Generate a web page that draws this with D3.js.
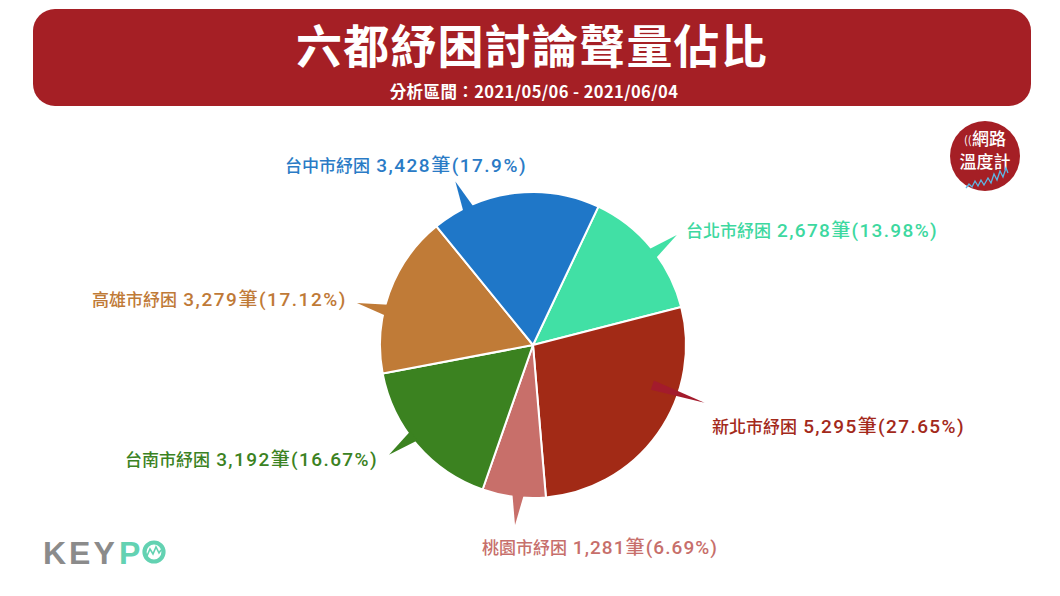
<!DOCTYPE html>
<html><head><meta charset="utf-8">
<script src="https://cdn.jsdelivr.net/npm/d3@7"></script>
<style>
html,body{margin:0;padding:0;background:#fff;}
svg{display:block;}
</style></head>
<body>
<svg id="chart" width="1060" height="596"></svg>
<script>
// ---- data ----
const cities = ["台北市紓困", "新北市紓困", "桃園市紓困", "台南市紓困", "高雄市紓困", "台中市紓困"];
const counts = [2678, 5295, 1281, 3192, 3279, 3428];
const percents = ["13.98", "27.65", "6.69", "16.67", "17.12", "17.9"];
const titleText = "六都紓困討論聲量佔比";
const subtitleText = "分析區間：2021/05/06 - 2021/06/04";

// ---- style / layout ----
const sliceColors = ["#41e0a5", "#a22a16", "#c86f6a", "#3b8220", "#c07b37", "#1f77c8"];
const labelColors = ["#3dd8a0", "#a3291b", "#c76f6b", "#3b8222", "#bf7a37", "#2a7bc6"];
const pointerColors = ["#41e0a5", "#a31b2c", "#c86f6a", "#3b8220", "#c07b37", "#1f77c8"];
const pointerAngles = [52.6, 108.6, 185.7, 232.7, 283.4, 334.6]; // degrees clockwise from top
const pointerBaseR = [150, 126, 150, 150, 150, 150];
const labelPos = [[686, 230], [712, 426], [482, 547], [125, 459], [92, 299], [285, 165]];
const labelWidths = [252, 253, 236, 253, 255, 242];

const cx = 533, cy = 345, R = 153;
const startDeg = 25.3;

const svg = d3.select("#chart");

// header banner
svg.append("rect").attr("x", 33).attr("y", 9).attr("width", 998).attr("height", 97)
  .attr("rx", 22).attr("fill", "#a51f25");
svg.append("text").attr("x", 532).attr("y", 63).attr("text-anchor", "middle")
  .attr("fill", "#fff").attr("font-family", "'Noto Sans CJK TC'").attr("font-weight", 700)
  .attr("font-size", 46).attr("letter-spacing", 1.2).text(titleText);
svg.append("text").attr("x", 534).attr("y", 98).attr("text-anchor", "middle")
  .attr("fill", "#fff").attr("font-family", "'Noto Sans CJK TC'").attr("font-weight", 700)
  .attr("font-size", 16.5).attr("letter-spacing", 0.4).text(subtitleText);

// pie
const pie = d3.pie().sort(null).value(d => d)
  .startAngle(startDeg * Math.PI / 180).endAngle(startDeg * Math.PI / 180 + 2 * Math.PI);
const arcs = pie(counts);
const arc = d3.arc().innerRadius(0).outerRadius(R);
const g = svg.append("g").attr("transform", `translate(${cx},${cy})`);

function pointerPath(i) {
  const a = pointerAngles[i] * Math.PI / 180;
  const br = pointerBaseR[i];
  const da = 2.2 * Math.PI / 180;
  const p = (ang, r) => [Math.sin(ang) * r, -Math.cos(ang) * r];
  const t = p(a, 181), b1 = p(a - da, br), b2 = p(a + da, br);
  return `M${b1[0]},${b1[1]}L${t[0]},${t[1]}L${b2[0]},${b2[1]}Z`;
}
g.selectAll("path.slice").data(arcs).enter().append("path").attr("class", "slice")
  .attr("d", arc).attr("fill", (d, i) => sliceColors[i])
  .attr("stroke", "#fff").attr("stroke-width", 2).attr("stroke-linejoin", "round");
g.selectAll("path.ptr").data(arcs).enter().append("path").attr("class", "ptr")
  .attr("d", (d, i) => pointerPath(i)).attr("fill", (d, i) => pointerColors[i]);

// labels
const fmt = d3.format(",");
const lbl = svg.append("g");
cities.forEach((c, i) => {
  const t = lbl.append("text").attr("x", labelPos[i][0]).attr("y", labelPos[i][1])
    .attr("dy", "0.36em").attr("fill", labelColors[i])
    .attr("font-family", "Roboto,'Noto Sans CJK TC'").attr("font-size", 19).attr("font-weight", 500);
  t.append("tspan").attr("font-family", "'Noto Sans CJK TC'").attr("font-size", 17).text(c);
  const rest = t.append("tspan").text(" " + fmt(counts[i]) + "筆(" + percents[i] + "%)");
  const restW = rest.node().getComputedTextLength();
  const nameW = t.node().getComputedTextLength() - restW;
  const target = labelWidths[i] - nameW;
  const n = rest.text().length;
  rest.attr("letter-spacing", ((target - restW) / n).toFixed(2));
});

// 網路溫度計 logo
const lg = svg.append("g").attr("transform", "translate(985,156)");
lg.append("circle").attr("r", 35).attr("fill", "#a51f25");
lg.append("text").attr("x", 4).attr("y", -11).attr("text-anchor", "middle").attr("fill", "#fff")
  .attr("font-family", "'Noto Sans CJK TC'").attr("font-weight", 500).attr("font-size", 17).text("網路");
lg.append("text").attr("x", -21).attr("y", -12).attr("fill", "#fff")
  .attr("font-family", "'Noto Sans CJK TC'").attr("font-size", 11).text("((");
lg.append("text").attr("x", 0).attr("y", 12).attr("text-anchor", "middle").attr("fill", "#fff")
  .attr("font-family", "'Noto Sans CJK TC'").attr("font-weight", 500).attr("font-size", 17).text("溫度計");
lg.append("polyline").attr("points", "-19,32 -16,28 -13,31 -10,25 -7,30 -4,24 -1,29 3,22 6,27 9,18 12,24 15,15 18,21 21,12 23,17")
  .attr("fill", "none").attr("stroke", "#5db6e3").attr("stroke-width", 1.3);

// KEYPO logo
const kg = svg.append("g");
kg.append("text").attr("x", 43).attr("y", 564).attr("fill", "#8b8b8b")
  .attr("font-family", "'Liberation Sans'").attr("font-weight", 700).attr("font-size", 32)
  .attr("letter-spacing", 3).text("KEY");
kg.append("text").attr("x", 119).attr("y", 564).attr("fill", "#63d2b2")
  .attr("font-family", "'Liberation Sans'").attr("font-weight", 700).attr("font-size", 32).text("P");
kg.append("circle").attr("cx", 154).attr("cy", 552).attr("r", 9.5).attr("fill", "none")
  .attr("stroke", "#63d2b2").attr("stroke-width", 4.2);
kg.append("polyline").attr("points", "147,556 150,549 153,554 156,547 159,553 161,550")
  .attr("fill", "none").attr("stroke", "#63d2b2").attr("stroke-width", 1.6);
</script>
</body></html>
